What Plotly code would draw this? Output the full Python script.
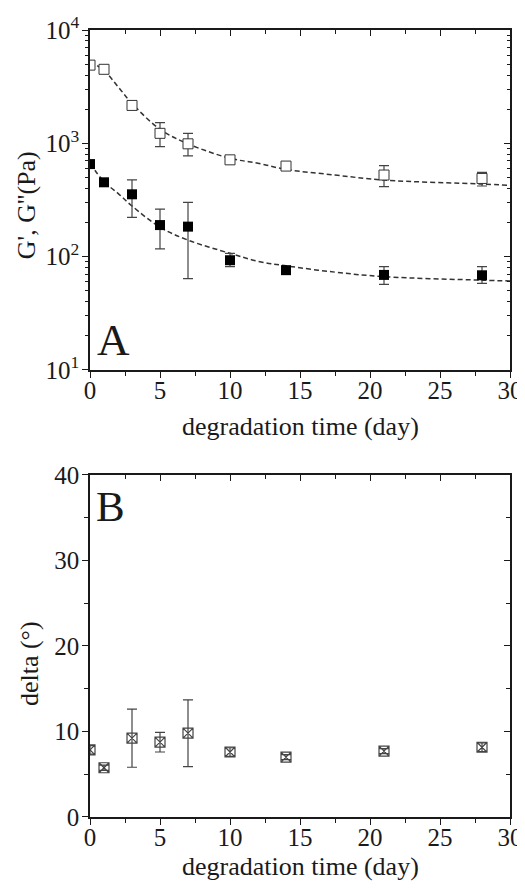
import plotly.graph_objects as go

# ---------------- data ----------------
days = [0, 1, 3, 5, 7, 10, 14, 21, 28]

g_prime = [4900, 4500, 2160, 1225, 990, 715, 630, 525, 490]
g_prime_err_plus = [450, 200, 150, 300, 235, 35, 30, 110, 65]
g_prime_err_minus = [400, 200, 150, 290, 215, 35, 30, 110, 70]

g_dprime = [656, 453, 355, 190, 184, 93, 76, 69, 68.5]
g_dprime_err_plus = [30, 20, 120, 73, 117, 14, 4, 12.5, 13]
g_dprime_err_minus = [30, 20, 133, 73, 120, 11.5, 4, 12, 10.5]

delta = [7.85, 5.76, 9.22, 8.75, 9.8, 7.6, 7.0, 7.7, 8.16]
delta_err = [0.5, 0.3, 3.4, 1.15, 3.9, 0.5, 0.3, 0.3, 0.5]

# dashed fit curves, read point by point
fit_days = [0, 1, 2, 3, 5, 7, 10, 12, 14, 17.5, 21, 28, 30]
fit_g_prime = [5250, 4400, 3160, 2250, 1330, 990, 738, 667, 589, 525, 474, 437, 426]
fit_g_dprime = [667, 459, 362, 280, 182, 140, 107, 91, 83, 73, 66.6, 62, 61]

x_ticks = [0, 5, 10, 15, 20, 25, 30]
delta_ticks = [0, 10, 20, 30, 40]
g_ticks = [10, 100, 1000, 10000]
g_ticktext = ["10<sup>1</sup>", "10<sup>2</sup>", "10<sup>3</sup>", "10<sup>4</sup>"]

x_title = "degradation time (day)"
yA_title = "G', G''(Pa)"
yB_title = "delta (°)"

# ---------------- styling ----------------
FONT = "'Liberation Serif', 'Times New Roman', 'DejaVu Serif', serif"
INK = "#1a1a1a"
ERR = "#444444"

fig = go.Figure()

fig.add_trace(go.Scatter(
    x=fit_days, y=fit_g_prime, mode="lines", line=dict(color="#333", width=1.5, dash="5px,3px", shape="spline"),
    xaxis="x", yaxis="y", showlegend=False, hoverinfo="skip"))
fig.add_trace(go.Scatter(
    x=fit_days, y=fit_g_dprime, mode="lines", line=dict(color="#333", width=1.5, dash="5px,3px", shape="spline"),
    xaxis="x", yaxis="y", showlegend=False, hoverinfo="skip"))
fig.add_trace(go.Scatter(
    x=days, y=g_prime, mode="markers",
    marker=dict(symbol="square", size=10, color="white", line=dict(color="#333", width=1)),
    error_y=dict(type="data", symmetric=False, array=g_prime_err_plus, arrayminus=g_prime_err_minus,
                 color=ERR, thickness=1.2, width=5),
    xaxis="x", yaxis="y", showlegend=False))
fig.add_trace(go.Scatter(
    x=days, y=g_dprime, mode="markers",
    marker=dict(symbol="square", size=10, color="black", line=dict(color="black", width=0)),
    error_y=dict(type="data", symmetric=False, array=g_dprime_err_plus, arrayminus=g_dprime_err_minus,
                 color=ERR, thickness=1.2, width=5),
    xaxis="x", yaxis="y", showlegend=False))

fig.add_trace(go.Scatter(
    x=days, y=delta, mode="markers",
    marker=dict(symbol="square-x-open", size=10, color="#444", line=dict(width=1.2)),
    error_y=dict(type="data", array=delta_err, color=ERR, thickness=1.2, width=5),
    xaxis="x2", yaxis="y2", showlegend=False))

# invisible helpers so the mirrored (inward) tick axes get drawn
fig.add_trace(go.Scatter(x=[15], y=[100], mode="markers", marker=dict(opacity=0), xaxis="x3", yaxis="y", showlegend=False, hoverinfo="skip"))
fig.add_trace(go.Scatter(x=[15], y=[100], mode="markers", marker=dict(opacity=0), xaxis="x", yaxis="y3", showlegend=False, hoverinfo="skip"))
fig.add_trace(go.Scatter(x=[15], y=[20], mode="markers", marker=dict(opacity=0), xaxis="x4", yaxis="y2", showlegend=False, hoverinfo="skip"))
fig.add_trace(go.Scatter(x=[15], y=[20], mode="markers", marker=dict(opacity=0), xaxis="x2", yaxis="y4", showlegend=False, hoverinfo="skip"))

tickfont = dict(family=FONT, size=25, color=INK)
titlefont = dict(family=FONT, size=26, color=INK)

xcommon = dict(range=[0, 30], tickvals=x_ticks, ticks="outside", ticklen=6, tickwidth=1.3, tickcolor=INK,
               showline=True, linecolor=INK, linewidth=1.5, showgrid=False, zeroline=False, automargin=False,
               minor=dict(dtick=2.5, tick0=0, ticks="outside", ticklen=4, tickwidth=1.2, tickcolor=INK),
               tickfont=tickfont, ticklabelstandoff=-9, ticklabeloverflow="allow")
mirror_common = dict(showticklabels=False, showline=True, linecolor=INK, linewidth=1.5, showgrid=False,
                     zeroline=False, automargin=False, ticks="inside", ticklen=6, tickwidth=1.3, tickcolor=INK)

top_dom = [0.568, 1.0]
bot_dom = [0.0, 0.4346]

# page body has an 8px margin: shift everything by it
fig.update_layout(
    width=517, height=884,
    margin=dict(l=82, r=15, t=22, b=75),
    paper_bgcolor="white", plot_bgcolor="white",
    font=dict(family=FONT, color=INK),
    xaxis=dict(**xcommon, domain=[0, 1], anchor="y"),
    yaxis=dict(type="log", range=[1, 4], domain=top_dom, anchor="x", tickvals=g_ticks, ticktext=g_ticktext,
               ticks="outside", ticklen=6, tickwidth=1.3, tickcolor=INK, automargin=False,
               ticklabeloverflow="allow", ticklabelstandoff=-2,
               showline=True, linecolor=INK, linewidth=1.5, showgrid=False, zeroline=False,
               minor=dict(dtick="D1", ticks="outside", ticklen=3.5, tickwidth=1.1, tickcolor=INK),
               tickfont=tickfont),
    xaxis2=dict(**xcommon, domain=[0, 1], anchor="y2"),
    yaxis2=dict(range=[0, 40], domain=bot_dom, anchor="x2", tickvals=delta_ticks,
                ticks="outside", ticklen=6, tickwidth=1.3, tickcolor=INK, automargin=False,
                ticklabeloverflow="allow", ticklabelstandoff=-2,
                showline=True, linecolor=INK, linewidth=1.5, showgrid=False, zeroline=False,
                minor=dict(dtick=5, tick0=0, ticks="outside", ticklen=4, tickwidth=1.2, tickcolor=INK),
                tickfont=tickfont),
    xaxis3=dict(**mirror_common, range=[0, 30], overlaying="x", anchor="y", side="top", tickvals=x_ticks,
                minor=dict(dtick=2.5, tick0=0, ticks="inside", ticklen=4, tickwidth=1.2, tickcolor=INK)),
    yaxis3=dict(**mirror_common, type="log", range=[1, 4], overlaying="y", anchor="x", side="right", tickvals=g_ticks,
                minor=dict(dtick="D1", ticks="inside", ticklen=3.5, tickwidth=1.1, tickcolor=INK)),
    xaxis4=dict(**mirror_common, range=[0, 30], overlaying="x2", anchor="y2", side="top", tickvals=x_ticks,
                minor=dict(dtick=2.5, tick0=0, ticks="inside", ticklen=4, tickwidth=1.2, tickcolor=INK)),
    yaxis4=dict(**mirror_common, range=[0, 40], overlaying="y2", anchor="x2", side="right", tickvals=delta_ticks,
                minor=dict(dtick=5, tick0=0, ticks="inside", ticklen=4, tickwidth=1.2, tickcolor=INK)),
    annotations=[
        dict(text="A", xref="x domain", yref="y domain", x=0.055, y=0.088, xanchor="center", yanchor="middle",
             showarrow=False, font=dict(family=FONT, size=45, color=INK)),
        dict(text="B", xref="x2 domain", yref="y2 domain", x=0.048, y=0.909, xanchor="center", yanchor="middle",
             showarrow=False, font=dict(family=FONT, size=43, color=INK)),
        dict(text=x_title, xref="paper", yref="paper", x=0.5, y=0.4956, xanchor="center", yanchor="middle",
             showarrow=False, font=titlefont),
        dict(text=x_title, xref="paper", yref="paper", x=0.5, y=-0.0623, xanchor="center", yanchor="middle",
             showarrow=False, font=titlefont),
        dict(text=yA_title, xref="paper", yref="paper", x=-0.152, y=0.7776, xanchor="center", yanchor="middle",
             textangle=-90, showarrow=False, font=titlefont),
        dict(text=yB_title, xref="paper", yref="paper", x=-0.145, y=0.1944, xanchor="center", yanchor="middle",
             textangle=-90, showarrow=False, font=titlefont),
    ],
)

fig.write_html("out.html")
